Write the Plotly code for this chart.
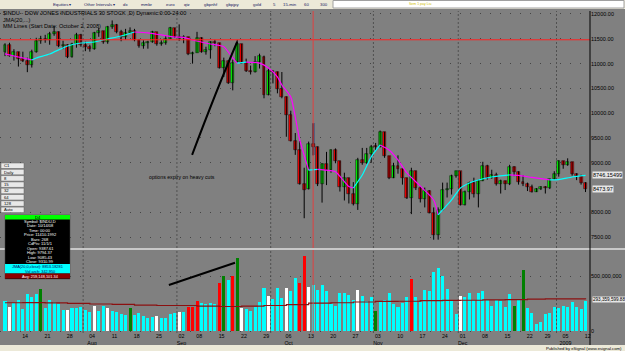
import plotly.graph_objects as go

# ---------------- DATA ----------------
month_days = {
    "2008-07": [8, 9, 10, 11, 14, 15, 16, 17, 18, 21, 22, 23, 24, 25, 28, 29, 30, 31],
    "2008-08": [1, 4, 5, 6, 7, 8, 11, 12, 13, 14, 15, 18, 19, 20, 21, 22, 25, 26, 27, 28, 29],
    "2008-09": [2, 3, 4, 5, 8, 9, 10, 11, 12, 15, 16, 17, 18, 19, 22, 23, 24, 25, 26, 29, 30],
    "2008-10": [1, 2, 3, 6, 7, 8, 9, 10, 13, 14, 15, 16, 17, 20, 21, 22, 23, 24, 27, 28, 29, 30, 31],
    "2008-11": [3, 4, 5, 6, 7, 10, 11, 12, 13, 14, 17, 18, 19, 20, 21, 24, 25, 26, 28],
    "2008-12": [1, 2, 3, 4, 5, 8, 9, 10, 11, 12, 15, 16, 17, 18, 19, 22, 23, 24, 26, 29, 30, 31],
    "2009-01": [2, 5, 6, 7, 8, 9, 12],
}
dates = [f"{m}-{d:02d}" for m, ds in month_days.items() for d in ds]

opens = [11226, 11384, 11147, 11229, 11100, 11055, 10962, 11239, 11446, 11496, 11467, 11602, 11632, 11349, 11370, 11131, 11397, 11583,
         11378, 11326, 11284, 11615, 11656, 11431, 11734, 11782, 11642, 11532, 11615, 11659, 11479, 11348, 11417, 11430, 11628, 11386, 11412, 11502, 11715,
         11543, 11516, 11532, 11188, 11220, 11510, 11230, 11268, 11433, 11416, 10917, 11059, 10609, 11027, 11388, 11015, 10854, 10825, 11022, 11139, 10365,
         10850, 10831, 10482, 10322, 9955, 9437, 9258, 8568, 8462, 9387, 9310, 8577, 8979, 8852, 9265, 9033, 8519, 8691, 8378, 8175, 9065, 8990, 9180,
         9325, 9319, 9617, 9135, 8695, 8943, 8870, 8693, 8282, 8830, 8497, 8273, 8424, 7995, 7552, 8046, 8443, 8479, 8726,
         8829, 8149, 8419, 8591, 8376, 8635, 8934, 8691, 8761, 8565, 8629, 8564, 8924, 8824, 8604, 8579, 8519, 8419, 8468, 8515, 8483, 8668,
         8772, 9034, 8954, 9015, 8769, 8742, 8599]
highs = [11410, 11420, 11290, 11240, 11240, 11120, 11280, 11520, 11560, 11580, 11640, 11750, 11650, 11460, 11390, 11420, 11620, 11600,
         11440, 11380, 11640, 11720, 11660, 11760, 11870, 11800, 11680, 11700, 11730, 11700, 11490, 11470, 11460, 11660, 11630, 11470, 11560, 11740, 11720,
         11790, 11570, 11540, 11240, 11640, 11530, 11340, 11450, 11480, 11420, 11120, 11060, 11080, 11480, 11400, 11100, 10960, 11150, 11200, 11160, 10900,
         10860, 10840, 10830, 10340, 10050, 9600, 9440, 8901, 9427, 9794, 9330, 8990, 9220, 9270, 9290, 9040, 8800, 8700, 8610, 9100, 9300, 9300, 9360,
         9400, 9650, 9625, 9140, 9000, 9150, 8880, 8700, 8900, 8840, 8530, 8500, 8450, 8100, 8100, 8600, 8600, 8760, 8840,
         8830, 8440, 8620, 8700, 8660, 9020, 8960, 8860, 8800, 8660, 8640, 8960, 8930, 8830, 8750, 8600, 8560, 8490, 8530, 8530, 8680, 8830,
         9050, 9040, 9090, 9020, 8790, 8760, 8610]
lows = [11150, 11140, 11060, 10940, 11030, 10827, 10920, 11220, 11400, 11420, 11380, 11560, 11330, 11290, 11110, 11120, 11320, 11340,
        11250, 11240, 11280, 11540, 11400, 11400, 11700, 11610, 11450, 11480, 11600, 11450, 11320, 11300, 11300, 11420, 11360, 11360, 11380, 11500, 11520,
        11460, 11410, 11170, 11000, 11220, 11220, 11180, 11100, 11350, 10900, 10730, 10590, 10460, 11020, 11000, 10830, 10780, 10820, 10900, 10300, 10360,
        10600, 10400, 10300, 9525, 9430, 9160, 8560, 7882, 8462, 9147, 8530, 8197, 8550, 8800, 8990, 8420, 8240, 8180, 8140, 8050, 8960, 8980, 9000,
        9250, 9310, 9100, 8670, 8690, 8780, 8560, 8270, 7965, 8450, 8200, 8100, 7980, 7449, 7450, 8040, 8300, 8360, 8700,
        8140, 8140, 8260, 8300, 8100, 8630, 8660, 8680, 8540, 8380, 8450, 8550, 8730, 8560, 8530, 8430, 8400, 8410, 8450, 8380, 8470, 8660,
        8720, 8880, 8940, 8740, 8650, 8560, 8410]
closes = [11384, 11147, 11229, 11100, 11055, 10962, 11239, 11446, 11496, 11467, 11602, 11632, 11349, 11370, 11131, 11397, 11583, 11378,
          11326, 11284, 11615, 11656, 11431, 11734, 11782, 11642, 11532, 11615, 11659, 11479, 11348, 11417, 11430, 11628, 11386, 11412, 11502, 11715, 11543,
          11516, 11532, 11188, 11220, 11510, 11230, 11268, 11433, 11421, 10917, 11059, 10609, 11019, 11388, 11015, 10854, 10825, 11022, 11143, 10365, 10850,
          10831, 10482, 10325, 9955, 9447, 9258, 8579, 8451, 9387, 9310, 8577, 8979, 8852, 9265, 9033, 8519, 8691, 8378, 8175, 9065, 8990, 9180, 9325,
          9319, 9625, 9139, 8695, 8943, 8870, 8693, 8282, 8835, 8497, 8273, 8424, 7997, 7552, 8046, 8443, 8479, 8726, 8829,
          8149, 8419, 8591, 8376, 8635, 8934, 8691, 8761, 8565, 8629, 8564, 8924, 8824, 8604, 8579, 8519, 8419, 8468, 8515, 8483, 8668, 8776,
          9034, 8952, 9015, 8769, 8742, 8599, 8474]

# volume in millions and the colour class of each volume bar
volumes = [273, 227, 257, 282, 206, 343, 312, 343, 382, 212, 282, 266, 252, 191, 197, 212, 212, 221, 191, 173,
           236, 182, 230, 212, 182, 173, 161, 152, 215, 152, 167, 139, 124, 136, 145, 121, 121, 155, 167, 176,
           176, 227, 221, 276, 261, 252, 258, 252, 442, 503, 470, 503, 667, 215, 206, 185, 221, 266, 394, 327,
           297, 397, 303, 397, 364, 488, 442, 691, 409, 424, 379, 427, 364, 252, 236, 352, 348, 336, 282, 373,
           321, 273, 312, 182, 266, 282, 348, 252, 221, 261, 318, 479, 312, 266, 373, 364, 539, 579, 509, 382,
           282, 161, 327, 312, 348, 288, 352, 364, 288, 236, 288, 276, 227, 343, 236, 282, 555, 212, 170, 64,
           85, 158, 167, 227, 212, 236, 221, 266, 227, 200, 273]
vol_class = list("cwccccccgcccccwcccccwccwccccgcccccwccccwcrrrccccrgcrgwcccccwcccwccrrwc"
                 "cccccccccwcccgcccccccrccccccccccwcccccccccccgcgcccccccccccccc")

# weekly volume average (millions)
avg_dates = ["2008-07-08", "2008-07-14", "2008-07-21", "2008-07-28", "2008-08-04", "2008-08-11", "2008-08-18",
             "2008-08-25", "2008-09-02", "2008-09-08", "2008-09-15", "2008-09-22", "2008-09-29", "2008-10-06",
             "2008-10-13", "2008-10-20", "2008-10-27", "2008-11-03", "2008-11-10", "2008-11-17", "2008-11-24",
             "2008-12-01", "2008-12-08", "2008-12-15", "2008-12-22", "2008-12-29", "2009-01-05", "2009-01-12"]
avg_values = [261, 262, 260, 255, 250, 247, 240, 236, 236, 230, 227, 230, 236, 245,
              257, 261, 268, 273, 275, 280, 282, 284, 288, 290, 295, 297, 296, 293]

# JMA(20) line
jma_dates = ["2008-07-08", "2008-07-11", "2008-07-16", "2008-07-17", "2008-07-22", "2008-07-28", "2008-07-31",
             "2008-08-05", "2008-08-08", "2008-08-13", "2008-08-18", "2008-08-21", "2008-08-26", "2008-08-29",
             "2008-09-03", "2008-09-05", "2008-09-11", "2008-09-16", "2008-09-18", "2008-09-19", "2008-09-23",
             "2008-09-26", "2008-09-30", "2008-10-02", "2008-10-03", "2008-10-07", "2008-10-08", "2008-10-09",
             "2008-10-13", "2008-10-15", "2008-10-17", "2008-10-21", "2008-10-24", "2008-10-27", "2008-10-29",
             "2008-10-31", "2008-11-04", "2008-11-06", "2008-11-10", "2008-11-12", "2008-11-17", "2008-11-20",
             "2008-11-21", "2008-11-24", "2008-11-26", "2008-12-01", "2008-12-03", "2008-12-05", "2008-12-10",
             "2008-12-16", "2008-12-18", "2008-12-23", "2008-12-30", "2009-01-02", "2009-01-07", "2009-01-12"]
jma_values = [11194, 11133, 11073, 11113, 11194, 11355, 11415,
              11435, 11496, 11556, 11637, 11617, 11577, 11536,
              11530, 11476, 11395, 11340, 11110, 11010, 11030,
              11010, 10911, 10730, 10569, 10327, 9924, 9460,
              8850, 8866, 8850, 8820, 8520, 8492, 8754,
              9117, 9359, 9258, 9057, 8795, 8530, 8250,
              7950, 8049, 8250, 8492, 8593, 8653, 8714,
              8755, 8745, 8705, 8655, 8660, 8714, 8746]

# 8500.00 is hidden behind the last-close box in the reference
price_ticks = [12000, 11500, 11000, 10500, 10000, 9500, 9000, 8000, 7500]
tick_dates = ["2008-07-14", "2008-07-21", "2008-07-28", "2008-08-04", "2008-08-11", "2008-08-18", "2008-08-25",
              "2008-09-02", "2008-09-08", "2008-09-15", "2008-09-22", "2008-09-29", "2008-10-06", "2008-10-13",
              "2008-10-20", "2008-10-27", "2008-11-03", "2008-11-10", "2008-11-17", "2008-11-24", "2008-12-01",
              "2008-12-08", "2008-12-15", "2008-12-22", "2008-12-29", "2009-01-05", "2009-01-12"]
tick_text = ["14", "21", "28", "04<br>Aug", "11", "18", "25", "02<br>Sep", "08", "15", "22", "29", "06<br>Oct",
             "13", "20", "27", "03<br>Nov", "10", "17", "24", "01<br>Dec", "08", "15", "22", "29", "05<br>2009", "12"]
month_starts = ["2008-08-01", "2008-09-02", "2008-10-01", "2008-11-03", "2008-12-01", "2009-01-02"]
cursor_date = "2008-10-14"
cursor_price = 11480
last_jma_label = "8746.15499"
last_close_label = "8473.97"
avg_label = "293,359,599.88"

assert len(dates) == len(opens) == len(highs) == len(lows) == len(closes) == len(volumes) == len(vol_class)

# ---------------- GEOMETRY HELPERS ----------------
W, H = 625, 351
PL, PR, PT, PB = 0, 590, 11, 333
pos = {d: i for i, d in enumerate(dates)}
X = list(range(len(dates)))


def px(x):
    return (x - PL) / (PR - PL)


def py(y):
    return (PB - y) / (PB - PT)


FONT = "Liberation Sans, Arial, sans-serif"
fig = go.Figure()

# wicks
wx, wy = [], []
for i in X:
    wx += [i, i, None]
    wy += [lows[i], highs[i], None]
fig.add_trace(go.Scatter(x=wx, y=wy, mode="lines", line=dict(color="#000000", width=1),
                         hoverinfo="skip", showlegend=False, xaxis="x", yaxis="y"))

# cursor bar highlight
ci = pos[cursor_date]
fig.add_trace(go.Bar(x=[ci], y=[highs[ci] - lows[ci]], base=[lows[ci]], width=0.7,
                     marker=dict(color="#56617e", line=dict(width=0)), showlegend=False,
                     hoverinfo="skip", xaxis="x", yaxis="y"))

# bodies
body_base = [min(o, c) for o, c in zip(opens, closes)]
body_h = [max(abs(c - o), 12) for o, c in zip(opens, closes)]
body_col = ["#00ff00" if c >= o else "#ff0000" for o, c in zip(opens, closes)]
fig.add_trace(go.Bar(x=X, y=body_h, base=body_base, width=0.66,
                     marker=dict(color=body_col, line=dict(color="#1a1a1a", width=0.6)),
                     showlegend=False, hoverinfo="skip", xaxis="x", yaxis="y"))

# JMA coloured by direction
jx = [pos[d] for d in jma_dates]
runs = []
for k in range(len(jx) - 1):
    col = "#00ffff" if jma_values[k + 1] > jma_values[k] else "#ff00ff"
    if runs and runs[-1][0] == col:
        runs[-1][1].append(k + 1)
    else:
        runs.append([col, [k, k + 1]])
for col, ks in runs:
    fig.add_trace(go.Scatter(x=[jx[k] for k in ks], y=[jma_values[k] for k in ks], mode="lines",
                             line=dict(color=col, width=1.2, shape="spline", smoothing=0.6),
                             hoverinfo="skip", showlegend=False, xaxis="x", yaxis="y"))

# volume bars
cmap = {"c": "#00ffff", "w": "#ffffff", "g": "#008000", "r": "#ff0000"}
fig.add_trace(go.Bar(x=X, y=volumes, width=0.68, marker=dict(color=[cmap[c] for c in vol_class], line=dict(width=0)),
                     showlegend=False, hoverinfo="skip", xaxis="x2", yaxis="y2"))
fig.add_trace(go.Scatter(x=[pos[d] for d in avg_dates], y=avg_values, mode="lines",
                         line=dict(color="#8b1010", width=1.2, shape="hv"),
                         hoverinfo="skip", showlegend=False, xaxis="x2", yaxis="y2"))

xr = [-1.12, 131.0]
shapes = []
# month separators
for d in month_starts:
    for yr, y0, y1 in (("y", 7282, 12060), ("y2", -14, 741)):
        shapes.append(dict(type="line", xref="x" if yr == "y" else "x2", yref=yr, x0=pos[d] - 0.5, x1=pos[d] - 0.5,
                           y0=y0, y1=y1, line=dict(color="#505050", width=1, dash="2px,2px"), layer="below"))
# crosshair
shapes.append(dict(type="line", xref="x", yref="y", x0=xr[0], x1=xr[1], y0=cursor_price, y1=cursor_price,
                   line=dict(color="#ff2020", width=1)))
shapes.append(dict(type="line", xref="x", yref="paper", x0=ci, x1=ci, y0=py(248), y1=1,
                   line=dict(color="#e04040", width=1)))
shapes.append(dict(type="line", xref="x2", yref="paper", x0=ci, x1=ci, y0=py(333), y1=py(250),
                   line=dict(color="#e04040", width=1)))
# pane separator, right border
shapes.append(dict(type="rect", xref="paper", yref="paper", x0=0, x1=px(W), y0=py(250), y1=py(248),
                   fillcolor="#c8c8c8", line=dict(width=0)))
shapes.append(dict(type="line", xref="paper", yref="paper", x0=px(590), x1=px(590), y0=py(345), y1=py(11),
                   line=dict(color="#000000", width=1)))
# hand-drawn notes
shapes.append(dict(type="path", xref="x", yref="y",
                   path="M 41.9,9160 Q 47.5,10500 52,11440", line=dict(color="#000000", width=2)))
shapes.append(dict(type="line", xref="x2", yref="y2", x0=36.7, y0=423, x1=51.5, y1=625,
                   line=dict(color="#000000", width=2)))
# toolbar and status bar
shapes.append(dict(type="rect", xref="paper", yref="paper", x0=0, x1=px(W), y0=py(9), y1=py(0),
                   fillcolor="#ece9d8", line=dict(width=0)))
shapes.append(dict(type="rect", xref="paper", yref="paper", x0=px(333), x1=px(624), y0=py(8), y1=py(0.5),
                   fillcolor="#ffffff", line=dict(color="#a0a0a0", width=1)))
shapes.append(dict(type="rect", xref="paper", yref="paper", x0=0, x1=px(W), y0=py(351), y1=py(345),
                   fillcolor="#ece9d8", line=dict(width=0)))
# left buttons
btn_labels = ["C1", "Daily", "8", "15", "32", "64", "128", "Auto"]
btn_y = [163, 169.3, 175.6, 181.9, 188.2, 194.5, 200.8, 207.1]
for yb in btn_y:
    shapes.append(dict(type="rect", xref="paper", yref="paper", x0=px(1), x1=px(24), y0=py(yb + 5.5), y1=py(yb),
                       fillcolor="#e8e8e8", line=dict(color="#606060", width=0.5)))
# data window
shapes.append(dict(type="rect", xref="paper", yref="paper", x0=px(5), x1=px(70), y0=py(279), y1=py(215),
                   fillcolor="#000000", line=dict(color="#404040", width=0.5)))
shapes.append(dict(type="rect", xref="paper", yref="paper", x0=px(5), x1=px(70), y0=py(219.5), y1=py(215),
                   fillcolor="#00ff00", line=dict(width=0)))
shapes.append(dict(type="rect", xref="paper", yref="paper", x0=px(5), x1=px(70), y0=py(273.5), y1=py(264),
                   fillcolor="#00ffff", line=dict(width=0)))
shapes.append(dict(type="rect", xref="paper", yref="paper", x0=px(5), x1=px(70), y0=py(278.5), y1=py(273.5),
                   fillcolor="#8b0000", line=dict(width=0)))

ann = []


def text(x, y, s, size=5.5, color="#000000", anchor="left", bg=None):
    d = dict(xref="paper", yref="paper", x=px(x), y=py(y), text=s, showarrow=False, xanchor=anchor,
             yanchor="middle", font=dict(family=FONT, size=size, color=color), borderpad=0)
    if bg:
        d["bgcolor"] = bg
    ann.append(d)


text(2, 13, "$INDU - DOW JONES INDUSTRIALS 30 STOCK ,D) Dynamic:0:00-24:00", 5.6)
text(2, 19.5, "JMA(20,...)", 5.6)
text(2, 26, "MM Lines (Start Date: October 2, 2008)", 5.6)
text(148, 177, "options expiry on heavy cuts", 5.2)

# toolbar labels
for x, s in [(52, "Equities ▾"), (83, "Other Intervals ▾"), (122, "dx"), (140, "mmbr"), (165, "euro"),
             (183, "qtz"), (203, "gbpnhf"), (225, "gbpjpy"), (252, "gold"), (272, "5"), (282, "15-min"),
             (303, "60"), (319, "300")]:
    text(x, 4.5, s, 4.3, "#202060")
text(408, 4, "Sem 1 pay Liu", 3.5, "#d0c000")
text(623, 348.4, "Published by eSignal (www.esignal.com)", 4.2, "#000000", "right")

for yb, lab in zip(btn_y, btn_labels):
    text(3, yb + 2.8, lab, 4.2)

text(37.5, 217.3, "D4", 4.2, "#000000", "center")
dw_lines = ["Symbol: $INDU,D", "Date: 10/14/08", "Time: 00:00", "Price: 11410.1992", "Bars: 268",
            "CdPts: 11/1/1", "Open: 9387.61", "High: 9794.37", "Low: 9085.43", "Close: 9310.99"]
for k, s in enumerate(dw_lines):
    text(40, 221.5 + 4.45 * k, s, 4.0, "#ffffff", "center")
text(37.5, 266.2, "JMA(20,0,close): 8853.18281", 3.9, "#000060", "center")
text(40, 271, "Vol arch: 342,950", 3.9, "#000060", "center")
text(40, 276, "Avg: 259,148,101.34", 3.9, "#ffffff", "center")

# right axis value boxes
ann.append(dict(xref="paper", yref="y", x=px(592), y=8746, text=last_jma_label, showarrow=False, xanchor="left",
                yanchor="middle", font=dict(family=FONT, size=5.5, color="#000000"), bgcolor="#e6e6e6", borderpad=0))
ann.append(dict(xref="paper", yref="y", x=px(592), y=8474, text=last_close_label, showarrow=False, xanchor="left",
                yanchor="middle", font=dict(family=FONT, size=5.5, color="#000000"), bgcolor="#e6e6e6", borderpad=0))
ann.append(dict(xref="paper", yref="y2", x=px(591.5), y=293, text=avg_label, showarrow=False, xanchor="left",
                yanchor="middle", font=dict(family=FONT, size=4.6, color="#000000"), bgcolor="#e6e6e6", borderpad=0))

fig.update_layout(
    width=W, height=H, margin=dict(l=PL, r=W - PR, t=PT, b=H - PB),
    paper_bgcolor="#808080", plot_bgcolor="#808080", bargap=0, barmode="overlay",
    showlegend=False, shapes=shapes, annotations=ann,
    font=dict(family=FONT, size=5.5, color="#000000"),
    xaxis=dict(domain=[0, 1], range=xr, showticklabels=False, showgrid=False, zeroline=False,
               anchor="y", showline=False),
    xaxis2=dict(domain=[0, 1], range=xr, matches="x", anchor="y2", showgrid=False, zeroline=False,
                tickvals=[pos[d] + 0.5 for d in tick_dates], ticktext=tick_text, ticks="",
                tickfont=dict(family=FONT, size=5.3, color="#000000"), ticklabelstandoff=-1),
    yaxis=dict(domain=[py(248), 1], range=[7282, 12060], side="right", anchor="x",
               tickvals=price_ticks, tickformat=".2f", ticks="", zeroline=False,
               tickfont=dict(family=FONT, size=5.5, color="#000000"),
               showgrid=True, gridcolor="#454545", griddash="1px,9px", gridwidth=1),
    yaxis2=dict(domain=[0, py(250)], range=[-14, 741], side="right", anchor="x2",
                tickvals=[0, 500], ticktext=["0", "500,000,000"], ticks="", zeroline=False,
                tickfont=dict(family=FONT, size=5.5, color="#000000"),
                showgrid=True, gridcolor="#454545", griddash="1px,9px", gridwidth=1),
)

fig.write_html("out.html")
